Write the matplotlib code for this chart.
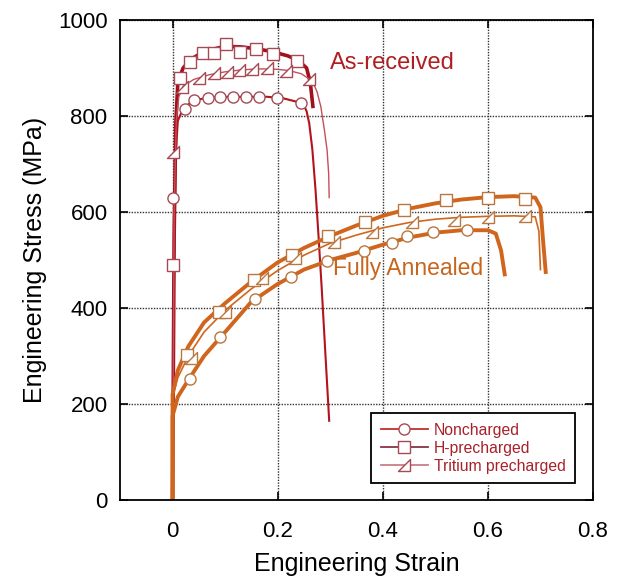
import numpy as np
import matplotlib
matplotlib.use('Agg')
import matplotlib.pyplot as plt
from matplotlib.lines import Line2D
from matplotlib.path import Path

plt.rcParams['font.family'] = ['Liberation Sans', 'DejaVu Sans']

# ---- As-received curves (strain, stress MPa) ----
ar_nc_x = [0, 0.003, 0.006, 0.01, 0.02, 0.04, 0.07, 0.1, 0.14, 0.18, 0.21, 0.235, 0.25, 0.255, 0.26, 0.266, 0.272, 0.278, 0.284, 0.291, 0.298]
ar_nc_y = [0, 500, 720, 790, 815, 833, 838, 840, 840, 840, 837, 830, 822, 810, 785, 730, 646, 545, 437, 300, 165]
ar_nc_mx = [0.0, 0.023, 0.04, 0.067, 0.091, 0.115, 0.14, 0.165, 0.199, 0.245]
ar_nc_my = [630, 815, 833, 838, 840, 840, 840, 840, 838, 828]

ar_h_x = [0, 0.003, 0.006, 0.01, 0.02, 0.035, 0.06, 0.08, 0.1, 0.13, 0.16, 0.19, 0.22, 0.24, 0.255, 0.262, 0.267]
ar_h_y = [0, 550, 780, 870, 900, 918, 935, 940, 945, 944, 940, 934, 925, 915, 900, 870, 820]
ar_h_mx = [0.0, 0.015, 0.034, 0.057, 0.078, 0.102, 0.128, 0.158, 0.192, 0.236]
ar_h_my = [490, 880, 913, 932, 932, 949, 934, 939, 930, 915]

ar_t_x = [0, 0.003, 0.007, 0.012, 0.02, 0.04, 0.07, 0.1, 0.13, 0.16, 0.19, 0.22, 0.245, 0.26, 0.268, 0.275, 0.282, 0.289, 0.294, 0.297, 0.298]
ar_t_y = [0, 600, 790, 840, 862, 876, 886, 892, 896, 898, 898, 895, 888, 877, 868, 850, 820, 770, 729, 680, 630]
ar_t_mx = [0.0, 0.017, 0.051, 0.078, 0.104, 0.126, 0.151, 0.18, 0.215, 0.26]
ar_t_my = [725, 861, 880, 889, 892, 896, 898, 899, 894, 877]

# ---- Fully annealed curves ----
fa_nc_x = [0, 0.0, 0.01, 0.03, 0.06, 0.1, 0.15, 0.2, 0.25, 0.3, 0.35, 0.4, 0.45, 0.5, 0.55, 0.6, 0.615, 0.625, 0.632]
fa_nc_y = [0, 175, 215, 250, 300, 350, 413, 450, 480, 500, 515, 532, 547, 557, 562, 562, 555, 520, 470]
fa_nc_mx = [0.034, 0.091, 0.156, 0.226, 0.293, 0.364, 0.418, 0.446, 0.496, 0.56]
fa_nc_my = [252, 339, 419, 465, 498, 519, 536, 549, 559, 562]

fa_h_x = [0, 0.0, 0.01, 0.03, 0.06, 0.1, 0.15, 0.2, 0.25, 0.3, 0.35, 0.4, 0.45, 0.5, 0.55, 0.6, 0.65, 0.69, 0.7, 0.705, 0.71]
fa_h_y = [0, 220, 270, 320, 370, 410, 455, 495, 525, 550, 572, 592, 607, 618, 626, 631, 633, 630, 610, 540, 475]
fa_h_mx = [0.027, 0.088, 0.154, 0.228, 0.295, 0.367, 0.44, 0.521, 0.6, 0.67]
fa_h_my = [303, 392, 458, 510, 549, 580, 605, 625, 630, 628]

fa_t_x = [0, 0.0, 0.01, 0.03, 0.06, 0.1, 0.15, 0.2, 0.25, 0.3, 0.35, 0.4, 0.45, 0.5, 0.55, 0.6, 0.65, 0.69, 0.697, 0.7]
fa_t_y = [0, 215, 255, 300, 350, 395, 440, 478, 510, 535, 552, 567, 578, 585, 589, 591, 592, 590, 560, 480]
fa_t_mx = [0.036, 0.10, 0.17, 0.232, 0.307, 0.38, 0.456, 0.535, 0.6, 0.67]
fa_t_my = [296, 392, 462, 505, 538, 559, 580, 583, 590, 592]

legend_labels = ['Noncharged', 'H-precharged', 'Tritium precharged']

# right-angle triangle marker
tri = Path([(-1, -1), (1, -1), (1, 1), (-1, -1)], [Path.MOVETO, Path.LINETO, Path.LINETO, Path.CLOSEPOLY])

fig = plt.figure(figsize=(6.29, 5.81), dpi=100)
ax = fig.add_axes([0.1908, 0.1394, 0.7520, 0.8262])

red1, red2, red3 = '#b3141c', '#a3101c', '#c2505c'
med = '#a54a55'
org = '#d0661e'
ormk = '#b9763e'

# as-received
ax.plot(ar_h_x, ar_h_y, color=red2, lw=2.6)
ax.plot(ar_nc_x, ar_nc_y, color=red1, lw=1.5)
ax.plot(ar_t_x, ar_t_y, color=red3, lw=1.0)
ax.plot(ar_nc_mx, ar_nc_my, ls='none', marker='o', ms=8, mfc='white', mec=med, mew=1.0)
ax.plot(ar_h_mx, ar_h_my, ls='none', marker='s', ms=9, mfc='white', mec=med, mew=1.0)
ax.plot(ar_t_mx, ar_t_my, ls='none', marker=tri, ms=9, mfc='white', mec=med, mew=1.0)

# fully annealed
ax.plot(fa_h_x, fa_h_y, color=org, lw=2.8)
ax.plot(fa_nc_x, fa_nc_y, color=org, lw=2.8)
ax.plot(fa_t_x, fa_t_y, color=org, lw=1.2)
ax.plot(fa_nc_mx, fa_nc_my, ls='none', marker='o', ms=8, mfc='white', mec=ormk, mew=1.0)
ax.plot(fa_h_mx, fa_h_my, ls='none', marker='s', ms=9, mfc='white', mec=ormk, mew=1.0)
ax.plot(fa_t_mx, fa_t_my, ls='none', marker=tri, ms=9, mfc='white', mec=ormk, mew=1.0)

ax.text(0.30, 910, 'As-received', color='#b01e22', fontsize=17, va='center', ha='left')
ax.text(0.305, 482, 'Fully Annealed', color='#c8651c', fontsize=16.5, va='center', ha='left')

ax.set_xlim(-0.1, 0.8)
ax.set_ylim(0, 1000)
ax.set_xticks([0, 0.2, 0.4, 0.6, 0.8])
ax.set_xticklabels(['0', '0.2', '0.4', '0.6', '0.8'])
ax.set_yticks([0, 200, 400, 600, 800, 1000])
ax.tick_params(direction='in', top=True, right=True, length=6, width=1.2, labelsize=16)
ax.tick_params(axis='x', pad=15)
ax.tick_params(axis='y', pad=9)
ax.grid(True, color='#333333', ls=(0, (1, 1)), lw=1.0)
for s in ax.spines.values():
    s.set_linewidth(1.3)
ax.set_xlabel('Engineering Strain', fontsize=18, labelpad=7)
ax.set_ylabel('Engineering Stress (MPa)', fontsize=18, labelpad=8)

handles = [
    Line2D([], [], color='#c0302a', lw=1.3, marker='o', ms=8, mfc='white', mec=med),
    Line2D([], [], color='#8a3444', lw=1.3, marker='s', ms=8, mfc='white', mec=med),
    Line2D([], [], color='#c87f86', lw=1.3, marker=tri, ms=8, mfc='white', mec=med),
]
leg = ax.legend(handles, legend_labels, loc='lower left', bbox_to_anchor=(0.531, 0.035),
                borderaxespad=0, fontsize=11.3, fancybox=False, edgecolor='black', framealpha=1,
                handlelength=3.0, labelspacing=0.2, borderpad=0.6, handletextpad=0.4)
leg.get_frame().set_linewidth(1.3)
for t in leg.get_texts():
    t.set_color('#a8202a')

fig.savefig('out.png', dpi=100)
